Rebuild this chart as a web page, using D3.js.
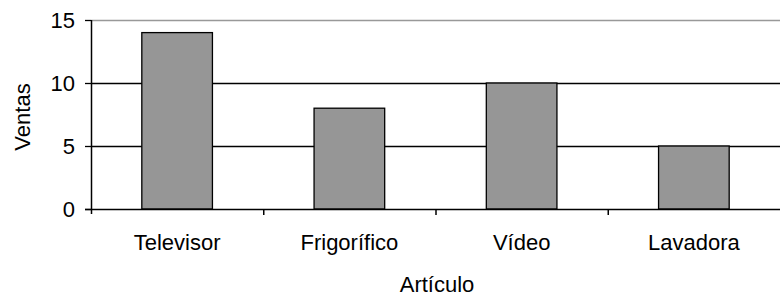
<!DOCTYPE html>
<html>
<head>
<meta charset="utf-8">
<script src="https://cdn.jsdelivr.net/npm/d3@7"></script>
<style>
  body { margin: 0; background: #fff; }
  text { font-family: "Liberation Sans", Arial, sans-serif; fill: #000; }
</style>
</head>
<body>
<svg id="chart" width="780" height="298"></svg>
<script>
const categories = ["Televisor", "Frigorífico", "Vídeo", "Lavadora"];
const ventas = [14, 8, 10, 5];
const yTicks = [0, 5, 10, 15];

const svg = d3.select("#chart");
const margin = { top: 20, right: 0, bottom: 89, left: 91 };
const width = 780 - margin.left - margin.right;
const height = 298 - margin.top - margin.bottom;
const fs = 22;

const g = svg.append("g")
  .attr("transform", `translate(${margin.left}, ${margin.top})`);

const x = d3.scaleBand(categories, [0, width]);
const y = d3.scaleLinear([0, 15], [height, 0]);
const barW = x.bandwidth() * 0.41;

// gridlines
g.selectAll(".grid")
  .data(yTicks.filter((d) => d > 0))
  .join("line")
  .attr("x1", 0)
  .attr("x2", width)
  .attr("y1", (d) => Math.round(y(d)) + 0.5)
  .attr("y2", (d) => Math.round(y(d)) + 0.5)
  .attr("stroke", (d) => (d === 15 ? "#999" : "#000"))
  .attr("stroke-width", 1.3);

// bars
g.selectAll(".bar")
  .data(ventas)
  .join("rect")
  .attr("x", (d, i) => x(categories[i]) + (x.bandwidth() - barW) / 2)
  .attr("y", (d) => y(d))
  .attr("width", barW)
  .attr("height", (d) => height - y(d))
  .attr("fill", "#969696")
  .attr("stroke", "#000")
  .attr("stroke-width", 1.3);

// y axis
const yAxis = g.append("g")
  .call(d3.axisLeft(y).tickValues(yTicks).tickSize(6).tickPadding(10));
yAxis.select(".domain").attr("stroke-width", 1.5).attr("d", `M0.5,${height + 5}V0`);
yAxis.selectAll("line").attr("stroke-width", 1.3);
yAxis.selectAll("text").attr("font-size", fs).attr("font-family", "Liberation Sans");

// x axis
const xAxis = g.append("g")
  .attr("transform", `translate(0, ${height})`)
  .call(d3.axisBottom(x).tickSize(0).tickPadding(25));
xAxis.select(".domain").attr("stroke-width", 1.5).attr("d", `M-6,0.5H${width}`);
xAxis.selectAll("text").attr("font-size", fs).attr("font-family", "Liberation Sans");
xAxis.selectAll(".sep")
  .data(categories.slice(1))
  .join("line")
  .attr("x1", (d) => x(d) + 0.5)
  .attr("x2", (d) => x(d) + 0.5)
  .attr("y1", 0)
  .attr("y2", 6)
  .attr("stroke", "#000")
  .attr("stroke-width", 1.5);

// axis titles
svg.append("text")
  .attr("x", 437)
  .attr("y", 292)
  .attr("text-anchor", "middle")
  .attr("font-size", fs)
  .text("Artículo");

svg.append("text")
  .attr("transform", `translate(30, 117) rotate(-90)`)
  .attr("text-anchor", "middle")
  .attr("font-size", fs)
  .text("Ventas");
</script>
</body>
</html>
